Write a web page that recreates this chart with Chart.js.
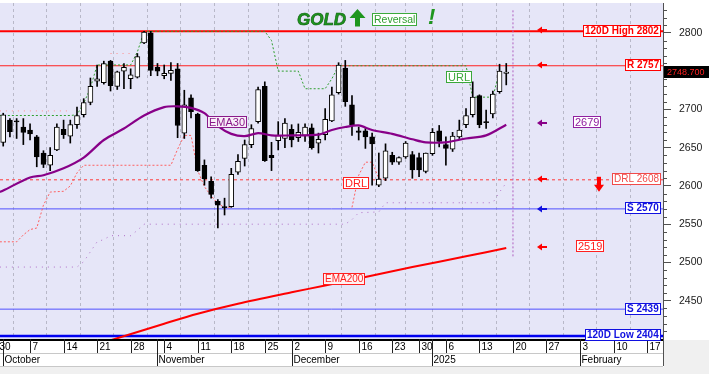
<!DOCTYPE html>
<html>
<head>
<meta charset="utf-8">
<script src="https://cdn.jsdelivr.net/npm/chart.js@4.4.1/dist/chart.umd.min.js"></script>
<style>
  html, body { margin: 0; padding: 0; background: #fff; }
  #c { display: block; }
</style>
</head>
<body>
<canvas id="c" width="709" height="374"></canvas>
<script>
// trading-day index 1..76 = 1 Oct 2024 .. 17 Jan 2025 (holidays left out)
const opens = [2657,2686,2685,2677,2673,2664,2643,2627,2647,2674, 2665,2680,2693,2709,2737,2735,2763,2730,2750,2740,
  2742,2787,2800,2755,2744,2747,2753,2669,2715,2694, 2627,2606,2580,2573,2573,2618,2636,2654,2684,2730,
  2640,2659,2662,2674,2663,2666,2676,2656,2667,2685, 2722,2754,2706,2672,2672,2664,2601,2610,2640,2631,
  2638,2641,2637,2619,2642,2672,2654,2648,2664,2680, 2693,2718,2684,2694,2723,2747];
const highs = [2695,2688,2688,2688,2681,2666,2646,2650,2681,2686, 2686,2703,2714,2741,2758,2763,2764,2750,2760,2753,
  2773,2802,2802,2760,2758,2761,2760,2725,2719,2695, 2634,2612,2582,2584,2623,2641,2660,2680,2729,2736,
  2657,2684,2688,2680,2681,2681,2681,2669,2701,2729, 2761,2764,2718,2677,2675,2669,2643,2655,2644,2638,
  2658,2645,2643,2643,2675,2679,2664,2670,2686,2701, 2736,2719,2699,2724,2759,2760];
const lows = [2652,2664,2662,2654,2660,2625,2624,2620,2646,2662, 2656,2675,2690,2706,2730,2733,2724,2726,2727,2727,
  2741,2786,2744,2744,2740,2738,2663,2662,2689,2619, 2601,2584,2545,2562,2572,2615,2626,2650,2682,2632,
  2620,2647,2650,2651,2658,2658,2648,2643,2660,2684, 2720,2704,2666,2660,2649,2601,2599,2607,2628,2628,
  2636,2610,2612,2617,2640,2651,2627,2645,2662,2676, 2690,2676,2675,2689,2721,2732];
const closes = [2693,2671,2683.5,2670,2668,2638,2628,2640,2677,2667, 2680,2692,2709,2730,2740,2760,2731,2749,2755,2745,
  2769,2801,2751,2750,2747,2751,2679,2706,2697,2620, 2609,2589,2575,2571.5,2615,2632,2654,2675,2726,2633,
  2637,2666,2682,2660,2670,2677,2650,2661,2687,2719, 2758,2710,2680,2670,2664,2655,2609,2646,2631,2637,
  2656,2621,2621,2643,2670,2658,2649,2665,2673,2692, 2716,2680,2682.5,2720,2750,2748.7];

const ema30Idx = [0.5,1,5,7,10,13,16,19,22,25,27,29,31,33,35,37,39,41,44,48,50,52,54,56,59,62,64,67,70,73,76];
const ema30Val = [2592,2594,2611,2614,2623,2637,2660,2675,2692,2703,2704,2702,2695,2678,2668,2665,2669,2666,2666,2667,2673,2677,2679,2673,2668,2661,2657,2657,2662,2666,2680];

const ema200Idx = [15,18,25,30,36,44,49,55,62,70,76];
const ema200Val = [2393,2401,2420,2433,2446,2461,2470,2481,2494,2508,2519];

const urlIdx = [0.5,11,12,13,14,15,20,21,22,40,41,42,45,46,49,50,51,70,71,74,75];
const urlVal = [2692,2692,2693,2708,2728,2758,2758,2775,2802,2802,2790,2750,2750,2727,2727,2740,2757,2757,2716,2716,2750];

const drlIdx = [0.5,3,4,5,6,7,8,10,11,12,13,26,27,28,29,30,31,32,33,34,35];
const drlVal = [2527,2527,2536,2543,2545,2575,2592,2593,2600,2617,2627,2627,2648,2666,2666,2620,2599,2587,2577,2572,2572];
const drl2Idx = [53,54,55,56,57,58];
const drl2Val = [2572,2614,2631,2631,2610,2608];

const lowDotIdx = [0.5,12,13,14,15,16,17,20,21,22,52,53,54,57,58,74,75,76];
const lowDotVal = [2494,2494,2501,2514,2527,2530,2535,2535,2542,2550,2550,2556,2565,2566,2578,2578,2592,2604];

const pinkAIdx = [0.5,11], pinkAVal = [2698,2698];
const pinkBIdx = [17,20], pinkBVal = [2773,2773];

const levelVal = [2802, 2757, 2608, 2570, 2439, 2404];
const levelTxt = ['120D High 2802', 'R 2757', 'DRL 2608', 'S 2570', 'S 2439', '120D Low 2404'];

const weekIdx = [0,5,10,15,20,25,30,35,40,44,49,54,59,63,67,72,77,82,87,92,97];
const weekLbl = ['30','7','14','21','28','4','11','18','25','2','9','16','23','30','6','13','20','27','3','10','17'];
const monthIdx = [1,24,44,65,87];
const monthLbl = ['October','November','December','2025','February'];
const yTickVal = [2450,2500,2550,2600,2650,2700,2750,2800];

const lastPrice = 2748.7;
const ema30Last = 2679, ema200Last = 2519;
const todayIdx = 77;

const X_MIN = 0.52, X_MAX = 99.37;
const FONT = '"Liberation Sans", Arial, sans-serif';
const PLOT_BG = '#E6E6F8';

const levelStyle = [
  {line: '#FF0000', width: 2,   dash: [],     text: '#FF0000', bold: true},
  {line: '#FF2020', width: 1,   dash: [],     text: '#FF0000', bold: true},
  {line: '#FF3A3A', width: 1,   dash: [3, 3], text: '#F04A4A', bold: false},
  {line: '#5050FF', width: 1,   dash: [],     text: '#1010E0', bold: true},
  {line: '#5050FF', width: 1,   dash: [],     text: '#1010E0', bold: true},
  {line: '#0000F0', width: 2.5, dash: [],     text: '#1010E0', bold: true},
];

const pts = (xs, ys) => xs.map((x, k) => ({x: x, y: ys[k]}));

function lineSet(data, color, width, dash, order, tension) {
    return {
        type: 'line', data: data, borderColor: color, borderWidth: width,
        borderDash: dash, pointRadius: 0, tension: tension || 0, order: order,
        fill: false,
    };
}

const datasets = [];
levelVal.forEach((v, k) => {
    const s = levelStyle[k];
    datasets.push(lineSet([{x: X_MIN, y: v}, {x: X_MAX, y: v}], s.line, s.width, s.dash, 20));
});
datasets.push(lineSet([{x: todayIdx, y: 2508}, {x: todayIdx, y: 2832}], '#B060C0', 1, [2, 2], 19));
datasets.push(lineSet(pts(pinkAIdx, pinkAVal), '#FF8C8C', 1, [1, 5], 9));
datasets.push(lineSet(pts(pinkBIdx, pinkBVal), '#FF8C8C', 1, [1, 5], 9));
datasets.push(lineSet(pts(lowDotIdx, lowDotVal), '#B070C8', 1, [1, 5], 9));
datasets.push(lineSet(pts(urlIdx, urlVal), '#30A030', 1, [2, 2], 8));
datasets.push(lineSet(pts(drlIdx, drlVal), '#FF6060', 1, [2, 2], 8));
datasets.push(lineSet(pts(drl2Idx, drl2Val), '#FF6060', 1, [2, 2], 8));

// candles: wick bars + body bars
datasets.push({
    type: 'bar', order: 6, grouped: false, barThickness: 1,
    data: lows.map((l, k) => ({x: k + 1, y: [l, highs[k]]})),
    backgroundColor: '#000000', borderWidth: 0,
});
datasets.push({
    type: 'bar', order: 5, grouped: false, barThickness: 5,
    data: opens.map((o, k) => ({x: k + 1, y: [o, closes[k]]})),
    backgroundColor: opens.map((o, k) => closes[k] >= o ? '#FFFFFF' : '#000000'),
    borderColor: '#000000', borderWidth: 1, borderSkipped: false,
});

datasets.push(lineSet(pts(ema200Idx, ema200Val), '#FF0000', 2, [], 2, 0.3));
datasets.push(lineSet(pts(ema30Idx, ema30Val), '#880088', 2.2, [], 1, 0.3));

function tag(ctx, text, x, y, o) {
    ctx.font = (o.bold ? 'bold ' : '') + (o.size || 11) + 'px ' + FONT;
    const pad = o.pad || 3;
    const w = Math.round(ctx.measureText(text).width) + pad * 2;
    const h = o.h || 12;
    const left = Math.round(o.right ? x - w : x);
    const top = Math.round(y - h / 2);
    ctx.fillStyle = o.fill || '#FFFFFF';
    ctx.fillRect(left, top, w, h);
    ctx.strokeStyle = o.border || o.color;
    ctx.lineWidth = 1;
    ctx.strokeRect(left + 0.5, top + 0.5, w - 1, h - 1);
    ctx.fillStyle = o.color;
    ctx.textAlign = 'left';
    ctx.textBaseline = 'middle';
    ctx.fillText(text, left + pad, top + h / 2 + 0.5);
}

function arrowLeft(ctx, x, y, color) {
    ctx.fillStyle = color;
    ctx.beginPath();
    ctx.moveTo(x, y);
    ctx.lineTo(x + 5, y - 3.5);
    ctx.lineTo(x + 5, y + 3.5);
    ctx.closePath();
    ctx.fill();
    ctx.fillRect(x + 4, y - 1, 6, 2);
}

const overlay = {
    id: 'overlay',
    beforeDraw(chart) {
        const {ctx, chartArea: a, width, height} = chart;
        ctx.save();
        ctx.fillStyle = '#FFFFFF';
        ctx.fillRect(0, 0, width, height);
        ctx.fillStyle = '#F0F0F0';
        ctx.fillRect(0, a.bottom + 28, width, height);
        ctx.fillRect(a.right + 1, a.bottom + 1, width, height);
        ctx.fillStyle = PLOT_BG;
        ctx.fillRect(a.left, a.top, a.right - a.left, a.bottom - a.top);
        ctx.restore();
    },
    afterDraw(chart) {
        const {ctx, chartArea: a} = chart;
        const xs = chart.scales.x, ys = chart.scales.y;
        ctx.save();

        // y axis minor ticks
        ctx.strokeStyle = '#505050';
        ctx.lineWidth = 1;
        for (let v = 2410; v <= 2830; v += 10) {
            if (v % 50 === 0) continue;
            const y = Math.round(ys.getPixelForValue(v)) + 0.5;
            ctx.beginPath(); ctx.moveTo(a.right, y); ctx.lineTo(a.right + 4, y); ctx.stroke();
        }

        // x axis: day row and month row
        const r1 = a.bottom, r2 = a.bottom + 14, r3 = a.bottom + 27;
        ctx.fillStyle = '#FFFFFF';
        ctx.fillRect(a.left, r1, a.right - a.left, r3 - r1);
        ctx.fillStyle = '#000000';
        ctx.fillRect(a.left, r1, a.right - a.left, 2);
        ctx.strokeStyle = '#C8C8C8';
        ctx.beginPath(); ctx.moveTo(a.left, r2 + 0.5); ctx.lineTo(a.right, r2 + 0.5); ctx.stroke();
        ctx.beginPath(); ctx.moveTo(a.left, r3 + 0.5); ctx.lineTo(a.right, r3 + 0.5); ctx.stroke();
        ctx.strokeStyle = '#202020';
        ctx.font = '10px ' + FONT;
        ctx.textAlign = 'left';
        ctx.textBaseline = 'middle';
        weekIdx.forEach((d, k) => {
            const x = Math.round(xs.getPixelForValue(d)) + 0.5;
            ctx.beginPath(); ctx.moveTo(x, r1); ctx.lineTo(x, r2); ctx.stroke();
            ctx.fillStyle = '#000000';
            ctx.fillText(weekLbl[k], x + 2, r1 + 8);
        });
        monthIdx.forEach((d, k) => {
            const x = Math.round(xs.getPixelForValue(d)) + 0.5;
            ctx.beginPath(); ctx.moveTo(x, r1); ctx.lineTo(x, r3); ctx.stroke();
            ctx.fillStyle = '#000000';
            ctx.fillText(monthLbl[k], x + 1, r2 + 7.5);
        });
        ctx.strokeStyle = '#505050';
        ctx.beginPath(); ctx.moveTo(a.right + 0.5, r1); ctx.lineTo(a.right + 0.5, r3); ctx.stroke();

        // level tags and arrows
        const arrowX = 537;
        levelVal.forEach((v, k) => {
            const s = levelStyle[k];
            const y = ys.getPixelForValue(v);
            tag(ctx, levelTxt[k], a.right - 2, y - 0.5, {right: true, color: s.text, border: s.text, bold: s.bold, size: 10, pad: 2});
        });
        [0, 1, 2].forEach(k => arrowLeft(ctx, arrowX, Math.round(ys.getPixelForValue(levelVal[k])) - 1, '#FF0000'));
        arrowLeft(ctx, arrowX, Math.round(ys.getPixelForValue(levelVal[3])), '#1010E0');
        arrowLeft(ctx, arrowX, Math.round(ys.getPixelForValue(ema30Last)) - 2, '#880088');
        arrowLeft(ctx, arrowX, Math.round(ys.getPixelForValue(ema200Last)) - 1, '#FF0000');
        tag(ctx, String(ema30Last), 573, ys.getPixelForValue(ema30Last) - 3, {color: '#9020A0', size: 11, pad: 2});
        tag(ctx, String(ema200Last), 576, ys.getPixelForValue(ema200Last) - 2, {color: '#FF2020', size: 11, pad: 2});

        // down arrow under DRL
        const dy = ys.getPixelForValue(levelVal[2]);
        ctx.fillStyle = '#FF0000';
        ctx.fillRect(597, dy - 3, 4, 9);
        ctx.beginPath();
        ctx.moveTo(594, dy + 5); ctx.lineTo(604, dy + 5); ctx.lineTo(599, dy + 12); ctx.closePath(); ctx.fill();

        // line labels
        tag(ctx, 'EMA30', 207, 121.5, {color: '#8A1A8A', fill: '#F8EEF8', size: 11, pad: 2});
        tag(ctx, 'EMA200', 323, 278.5, {color: '#FF2020', fill: '#FFF2F2', size: 10, pad: 2});
        tag(ctx, 'URL', 446, 76.5, {color: '#3AA83A', size: 11, pad: 2});
        tag(ctx, 'DRL', 343, 183, {color: '#FF2020', size: 11, pad: 2});

        // last price tag
        const py = Math.round(ys.getPixelForValue(lastPrice));
        ctx.fillStyle = '#000000';
        ctx.fillRect(a.right + 1, py - 6, 46, 12);
        ctx.fillStyle = '#FF2020';
        ctx.font = '9px ' + FONT;
        ctx.textAlign = 'left';
        ctx.textBaseline = 'middle';
        ctx.fillText(lastPrice.toFixed(3), a.right + 4, py + 0.5);

        // title
        ctx.font = 'italic bold 17px ' + FONT;
        ctx.fillStyle = '#1E961E';
        ctx.strokeStyle = '#0E5E0E';
        ctx.lineWidth = 0.6;
        ctx.fillText('GOLD', 297, 20);
        ctx.strokeText('GOLD', 297, 20);
        ctx.beginPath();
        ctx.moveTo(357.5, 9); ctx.lineTo(365.5, 18); ctx.lineTo(360, 18); ctx.lineTo(360, 26.5);
        ctx.lineTo(355, 26.5); ctx.lineTo(355, 18); ctx.lineTo(349.5, 18); ctx.closePath();
        ctx.fill();
        tag(ctx, 'Reversal', 372, 19, {color: '#2E9E2E', border: '#3CAA3C', size: 10.5, h: 13, pad: 2});
        ctx.font = 'italic bold 22px ' + FONT;
        ctx.fillStyle = '#1E961E';
        ctx.fillText('!', 428, 18);
        ctx.restore();
    }
};

new Chart(document.getElementById('c'), {
    type: 'bar',
    data: {datasets: datasets},
    options: {
        responsive: false,
        animation: false,
        layout: {padding: {top: 3, left: 0, right: 0, bottom: 0}},
        plugins: {legend: {display: false}, tooltip: {enabled: false}},
        scales: {
            x: {
                type: 'linear', min: X_MIN, max: X_MAX, offset: false,
                afterBuildTicks: s => { s.ticks = weekIdx.map(v => ({value: v})); },
                afterFit: s => { s.height = 35; s.paddingLeft = 0; s.paddingRight = 0; },
                ticks: {display: false},
                grid: {color: '#B8B8C8', lineWidth: 1, drawTicks: false},
                border: {display: false, dash: [3, 3]},
            },
            y: {
                position: 'right', min: 2400, max: 2839,
                afterBuildTicks: s => { s.ticks = yTickVal.map(v => ({value: v})); },
                afterFit: s => { s.width = 46; s.paddingTop = 0; s.paddingBottom = 0; },
                ticks: {color: '#202020', font: {family: FONT, size: 10.5}, padding: 8, callback: v => String(v)},
                grid: {drawOnChartArea: false, tickLength: 8, color: '#505050'},
                border: {display: true, color: '#505050'},
            },
        },
    },
    plugins: [overlay],
});
</script>
</body>
</html>
